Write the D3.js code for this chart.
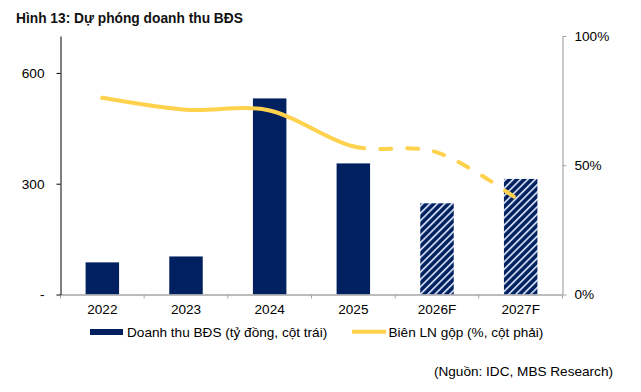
<!DOCTYPE html>
<html><head><meta charset="utf-8">
<script src="https://cdn.jsdelivr.net/npm/d3@7"></script>
<style>
body{margin:0;background:#fff;}
svg{display:block;font-family:"Liberation Sans",Arial,sans-serif;}
</style></head>
<body>
<svg id="c" width="641" height="392"></svg>
<script>
const categories = ["2022","2023","2024","2025","2026F","2027F"];
const revenue = [87, 103, 531, 355, 247, 313];
const margin = [76.1, 71.5, 71.2, 57.3, 55.0, 36.0];
const forecast = [false, false, false, false, true, true];
const leftTicks = [0, 300, 600];
const leftTickLabels = ["-", "300", "600"];
const rightTicks = [0, 50, 100];
const title = "Hình 13: Dự phóng doanh thu BĐS";
const legendLabels = ["Doanh thu BĐS (tỷ đồng, cột trái)", "Biên LN gộp (%, cột phải)"];
const source = "(Nguồn: IDC, MBS Research)";

const navy = "#002060", yellow = "#FFD24D";
const FS = 13.6;
const svg = d3.select("#c");
const L = 60.5, R = 562.5, T = 36, B = 294.5;

const x = d3.scaleBand().domain(categories).range([L, R]).paddingInner(0.6).paddingOuter(0.3);
const yL = d3.scaleLinear().domain([0, 700]).range([B, T]);
const yR = d3.scaleLinear().domain([0, 100]).range([B, T]);

const defs = svg.append("defs");
const pat = defs.append("pattern").attr("id","hatch").attr("patternUnits","userSpaceOnUse")
  .attr("width",5.2).attr("height",5.2).attr("patternTransform","rotate(45)");
pat.append("rect").attr("width",5.2).attr("height",5.2).attr("fill",navy);
pat.append("rect").attr("x",0).attr("width",1.8).attr("height",5.2).attr("fill","#c8d4ea");

// title
svg.append("text").attr("x",16).attr("y",23).attr("font-size",13.75).attr("font-weight","bold")
  .attr("fill","#111").text(title);

// bars
svg.selectAll("rect.bar").data(categories).join("rect").attr("class","bar")
  .attr("x", d => x(d)).attr("width", x.bandwidth())
  .attr("y", (d,i) => yL(revenue[i])).attr("height", (d,i) => B - yL(revenue[i]))
  .attr("fill", (d,i) => forecast[i] ? "url(#hatch)" : navy);

// x axis
const xAxis = d3.axisBottom(x).tickSize(0).tickPadding(10);
const gx = svg.append("g").attr("transform",`translate(0,${B})`).call(xAxis);
gx.select(".domain").attr("stroke","#a6a6a6").attr("stroke-width",1.5);
gx.selectAll("text").attr("font-size",FS).attr("fill","#000").attr("font-family","Liberation Sans, Arial");
// boundary ticks
const step = x.step();
const bounds = d3.range(categories.length + 1).map(i => i === 0 ? L : (i === categories.length ? R : x(categories[i]) - x.paddingInner()*step/2));
svg.append("g").selectAll("line").data(bounds).join("line")
  .attr("x1", d => d).attr("x2", d => d).attr("y1", B).attr("y2", B + 4)
  .attr("stroke","#a6a6a6").attr("stroke-width",1);

// left axis
const gl = svg.append("g").attr("transform",`translate(${L},0)`)
  .call(d3.axisLeft(yL).tickValues(leftTicks).tickFormat((d,i) => leftTickLabels[i]).tickSize(4).tickSizeOuter(0).tickPadding(12));
gl.select(".domain").attr("stroke","#000");
gl.selectAll(".tick line").attr("stroke","#000");
gl.selectAll("text").attr("font-size",FS).attr("fill","#000").attr("font-family","Liberation Sans, Arial");

// right axis
const gr = svg.append("g").attr("transform",`translate(${R},0)`)
  .call(d3.axisRight(yR).tickValues(rightTicks).tickFormat(d => d + "%").tickSize(4).tickSizeOuter(0).tickPadding(8));
gr.select(".domain").attr("stroke","#a6a6a6").attr("stroke-width",1.2);
gr.selectAll(".tick line").attr("stroke","#a6a6a6");
gr.selectAll("text").attr("font-size",FS).attr("fill","#000").attr("font-family","Liberation Sans, Arial");

// line
const pts = categories.map((c,i) => [x(c) + x.bandwidth()/2, yR(margin[i])]);
const lineGen = d3.line().curve(d3.curveCardinal.tension(0));
const full = svg.append("path").attr("d", lineGen(pts)).attr("fill","none").attr("stroke","none");
const totalLen = full.node().getTotalLength();
const splitX = pts[3][0];
let lo = 0, hi = totalLen;
for (let k = 0; k < 40; k++) { const m = (lo+hi)/2; if (full.node().getPointAtLength(m).x < splitX) lo = m; else hi = m; }
const splitLen = lo;
svg.append("path").attr("d", lineGen(pts)).attr("fill","none").attr("stroke",yellow)
  .attr("stroke-width",4).attr("stroke-linecap","round")
  .attr("stroke-dasharray", `${splitLen},${totalLen}`);
const dashLen = 11, gapLen = 16;
let arr = [0, splitLen];
let rem = totalLen - splitLen;
const dashes = [];
while (rem > 0) { dashes.push(dashLen, gapLen); rem -= dashLen + gapLen; }
svg.append("path").attr("d", lineGen(pts)).attr("fill","none").attr("stroke",yellow)
  .attr("stroke-width",4).attr("stroke-linecap","round")
  .attr("stroke-dasharray", arr.concat(dashes).join(","));

// legend
const lg = svg.append("g");
lg.append("rect").attr("x",90).attr("y",329).attr("width",33).attr("height",6).attr("fill",navy);
lg.append("text").attr("x",127).attr("y",336.5).attr("font-size",FS).attr("fill","#000").text(legendLabels[0]);
lg.append("line").attr("x1",352).attr("x2",386).attr("y1",331.8).attr("y2",331.8).attr("stroke",yellow).attr("stroke-width",4);
lg.append("text").attr("x",388.5).attr("y",336.5).attr("font-size",FS).attr("fill","#000").text(legendLabels[1]);

// source
svg.append("text").attr("x",613).attr("y",376).attr("text-anchor","end").attr("font-size",FS).attr("fill","#000").text(source);
</script>
</body></html>
